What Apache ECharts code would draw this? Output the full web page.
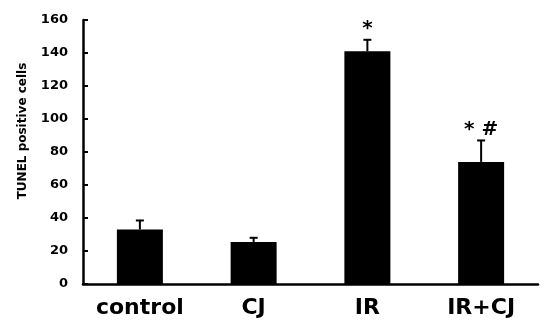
<!DOCTYPE html>
<html>
<head>
<meta charset="utf-8">
<script src="https://cdn.jsdelivr.net/npm/echarts@6/dist/echarts.min.js"></script>
<style>html,body{margin:0;padding:0;background:#fff;}#c{width:542px;height:324px;}</style>
</head>
<body>
<div id="c"></div>
<script>
var categories = ['control', 'CJ', 'IR', 'IR+CJ'];
var values = [33, 25.5, 141, 74];
var errors = [5.5, 2.5, 7, 13];
var marks = ['', '', '*', '* #'];
var yTicks = [0, 20, 40, 60, 80, 100, 120, 140, 160];

var chart = echarts.init(document.getElementById('c'), null, {renderer: 'canvas'});
var font = '"DejaVu Sans", "Liberation Sans", Arial, sans-serif';
chart.setOption({
  animation: false,
  backgroundColor: '#fff',
  grid: {left: 83, right: 4, top: 20, bottom: 40},
  graphic: [{
    type: 'text',
    x: 23, y: 131, rotation: Math.PI / 2,
    style: {text: 'TUNEL positive cells', font: 'bold 12px ' + font, fill: '#000', textAlign: 'center', textVerticalAlign: 'middle'}
  }],
  xAxis: {
    type: 'category', data: categories,
    axisLine: {lineStyle: {color: '#000', width: 2.5}},
    axisTick: {inside: true, length: 5, lineStyle: {color: '#000', width: 2}},
    axisLabel: {interval: 0, color: '#000', fontWeight: 'bold', fontSize: 22, fontFamily: font, margin: 13}
  },
  yAxis: {
    type: 'value', min: yTicks[0], max: yTicks[yTicks.length - 1], interval: 20,
    axisLine: {show: true, lineStyle: {color: '#000', width: 2.5}},
    axisTick: {show: true, inside: true, length: 5, lineStyle: {color: '#000', width: 2}},
    splitLine: {show: false},
    axisLabel: {color: '#000', fontWeight: 'bold', fontSize: 13, fontFamily: font, margin: 15}
  },
  series: [{
    type: 'bar', data: values, barWidth: 46,
    itemStyle: {color: '#000'}
  }, {
    type: 'custom',
    data: values.map(function (v, i) { return [i, v, errors[i]]; }),
    renderItem: function (params, api) {
      var i = api.value(0);
      var v = api.value(1);
      var e = api.value(2);
      var m = marks[params.dataIndex];
      var p0 = api.coord([i, v]);
      var p1 = api.coord([i, v + e]);
      var cw = 4;
      var children = [
        {type: 'line', shape: {x1: p0[0], y1: p0[1], x2: p1[0], y2: p1[1]}, style: {stroke: '#000', lineWidth: 2}},
        {type: 'line', shape: {x1: p1[0] - cw, y1: p1[1], x2: p1[0] + cw, y2: p1[1]}, style: {stroke: '#000', lineWidth: 2}}
      ];
      if (m) {
        children.push({type: 'text', x: p1[0], y: p1[1] - 1, style: {text: m, font: 'bold 20px ' + font, fill: '#000', textAlign: 'center', textVerticalAlign: 'bottom'}});
      }
      return {type: 'group', children: children};
    }
  }]
});
</script>
</body>
</html>
